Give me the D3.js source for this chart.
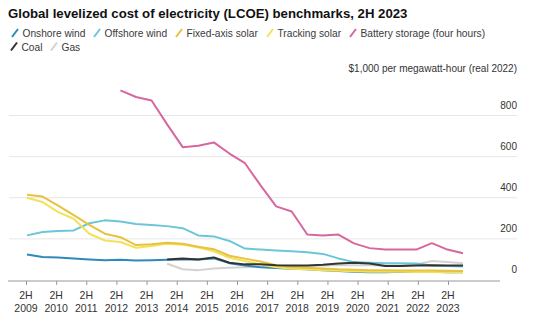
<html>
<head>
<title>LCOE benchmarks</title>
<style>
  body { margin: 0; background: #fff; }
  svg text { font-family: "Liberation Sans", Arial, sans-serif; }
</style>
</head>
<body>
<script src="https://cdn.jsdelivr.net/npm/d3@7"></script>
<script>
var w = 540;
var h = 330;

// half-year periods, 2H 2009 .. 2H 2023
var periods = ["2H09","1H10","2H10","1H11","2H11","1H12","2H12","1H13","2H13","1H14",
               "2H14","1H15","2H15","1H16","2H16","1H17","2H17","1H18","2H18","1H19",
               "2H19","1H20","2H20","1H21","2H21","1H22","2H22","1H23","2H23"];
var years = [2009,2010,2011,2012,2013,2014,2015,2016,2017,2018,2019,2020,2021,2022,2023];
var yTicks = [0, 200, 400, 600, 800];

// $/MWh, null where no benchmark exists
var onshore  = [124,112,110,105,100,96,98,95,96,98,100,100,105,82,70,62,58,55,52,48,44,40,38,38,40,39,40,38,38];
var offshore = [217,233,238,241,276,290,284,272,268,262,252,217,212,190,153,148,144,140,135,127,105,87,84,82,82,80,70,68,66];
var fixedPV  = [415,406,362,316,268,225,208,170,174,181,176,162,150,118,104,90,72,62,60,56,52,50,48,47,46,46,46,45,44];
var trackPV  = [400,379,330,298,225,192,185,157,165,176,172,158,140,108,92,75,62,55,52,48,45,42,40,40,40,39,39,38,38];
var battery  = [null,null,null,null,null,null,922,890,873,757,646,653,669,615,568,460,358,333,221,217,221,178,155,148,148,148,179,148,130];
var coal     = [null,null,null,null,null,null,null,null,null,100,104,100,110,84,76,76,72,70,70,74,80,84,80,68,68,70,72,70,70];
var gas      = [null,null,null,null,null,null,null,null,null,79,52,48,56,60,62,64,64,66,68,70,72,72,72,70,70,76,92,88,82];

var series = [
  {name: "Gas", values: gas, color: "#d2d2d2"},
  {name: "Offshore wind", values: offshore, color: "#6cc6d8"},
  {name: "Onshore wind", values: onshore, color: "#2d8ab9"},
  {name: "Tracking solar", values: trackPV, color: "#f2e25a"},
  {name: "Fixed-axis solar", values: fixedPV, color: "#e8c23e"},
  {name: "Coal", values: coal, color: "#333333"},
  {name: "Battery storage (four hours)", values: battery, color: "#d7679e"}
];

var legendRows = [
  [["Onshore wind", 15], ["Offshore wind", 97], ["Fixed-axis solar", 179], ["Tracking solar", 270], ["Battery storage (four hours)", 353]],
  [["Coal", 14], ["Gas", 54]]
];

var svg = d3.select('body').append('svg')
  .attr('width', w)
  .attr('height', h);

var x = d3.scaleLinear().domain([0, periods.length - 1]).range([27, 463]);
var xYear = d3.scalePoint().domain(years).range([26, 448]);
var y = d3.scaleLinear().domain([0, 800]).range([280, 115.5]);

// title
svg.append('text')
  .attr('x', 8).attr('y', 18)
  .attr('font-size', 13.2).attr('font-weight', 'bold').attr('fill', '#111')
  .text('Global levelized cost of electricity (LCOE) benchmarks, 2H 2023');

// legend
var colorOf = {};
series.forEach(function(s) { colorOf[s.name] = s.color; });
legendRows.forEach(function(row, r) {
  var ly = 37 + r * 13.5;
  row.forEach(function(item) {
    svg.append('line')
      .attr('x1', item[1] - 3).attr('y1', ly)
      .attr('x2', item[1] + 3).attr('y2', ly - 8)
      .attr('stroke', colorOf[item[0]]).attr('stroke-width', 2);
    svg.append('text')
      .attr('x', item[1] + 7.5).attr('y', ly)
      .attr('font-size', 10.2).attr('fill', '#3a3a3a')
      .text(item[0]);
  });
});

svg.append('text')
  .attr('x', 517).attr('y', 72)
  .attr('text-anchor', 'end')
  .attr('font-size', 10).attr('fill', '#333')
  .text('$1,000 per megawatt-hour (real 2022)');

// gridlines and right-hand labels
svg.selectAll('.grid')
  .data(yTicks.filter(function(d) { return d > 0; }))
  .enter().append('line')
  .attr('class', 'grid')
  .attr('x1', 9).attr('x2', 517)
  .attr('y1', function(d) { return y(d); })
  .attr('y2', function(d) { return y(d); })
  .attr('stroke', '#e6e6e6').attr('stroke-width', 1);

svg.selectAll('.ylab')
  .data(yTicks)
  .enter().append('text')
  .attr('class', 'ylab')
  .attr('x', 517)
  .attr('y', function(d) { return y(d) - 7; })
  .attr('text-anchor', 'end')
  .attr('font-size', 10).attr('fill', '#333')
  .text(function(d) { return d; });

// x axis
svg.append('line')
  .attr('x1', 8).attr('x2', 500)
  .attr('y1', 281).attr('y2', 281)
  .attr('stroke', '#999').attr('stroke-width', 1);

var xAxis = svg.append('g')
  .attr('transform', 'translate(0,281)')
  .call(d3.axisBottom(xYear).tickSize(4).tickFormat(''));
xAxis.select('.domain').remove();
xAxis.selectAll('line').attr('stroke', '#999');

var xl = svg.selectAll('.xlab')
  .data(years)
  .enter().append('text')
  .attr('class', 'xlab')
  .attr('text-anchor', 'middle')
  .attr('font-size', 10.5).attr('fill', '#333');
xl.append('tspan')
  .attr('x', function(d) { return xYear(d); }).attr('y', 299)
  .text('2H');
xl.append('tspan')
  .attr('x', function(d) { return xYear(d); }).attr('y', 312)
  .text(function(d) { return d; });

// series lines
var line = d3.line()
  .defined(function(d) { return d != null; })
  .x(function(d, i) { return x(i); })
  .y(function(d) { return y(d); });

svg.selectAll('.series')
  .data(series)
  .enter().append('path')
  .attr('class', 'series')
  .attr('d', function(s) { return line(s.values); })
  .attr('fill', 'none')
  .attr('stroke', function(s) { return s.color; })
  .attr('stroke-width', 2)
  .attr('stroke-linejoin', 'round');
</script>
</body>
</html>
